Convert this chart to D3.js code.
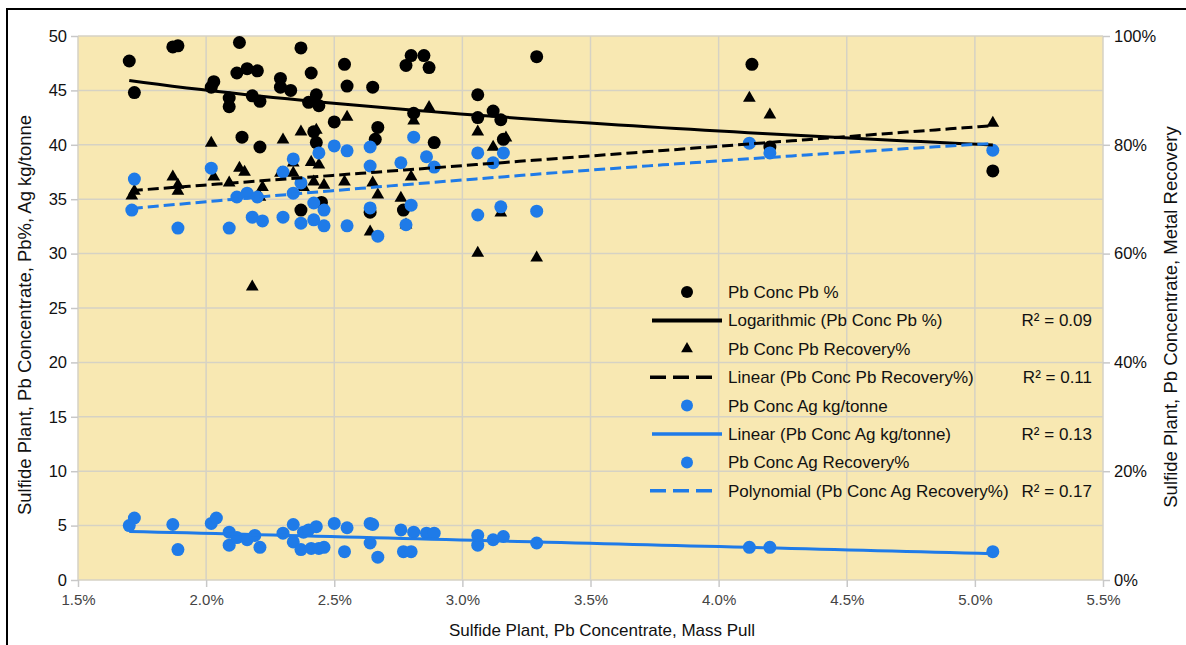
<!DOCTYPE html>
<html>
<head>
<meta charset="utf-8">
<script src="https://cdn.jsdelivr.net/npm/d3@7"></script>
<style>
  body { margin: 0; background: #fff; }
  text { font-family: "Liberation Sans", Arial, sans-serif; }
</style>
</head>
<body>
<svg id="chart" width="1186" height="645"></svg>
<script>
// Pb Conc Pb % (mass pull %, grade %)
var pbGrade = [
  [1.70,47.7],[1.72,44.8],[1.87,49.0],[1.89,49.1],[2.02,45.3],[2.03,45.8],[2.09,43.5],[2.09,44.3],
  [2.12,46.6],[2.13,49.4],[2.16,47.0],[2.20,46.8],[2.18,44.5],[2.21,44.0],[2.14,40.7],[2.21,39.8],
  [2.29,46.1],[2.29,45.3],[2.33,45.0],[2.37,48.9],[2.41,46.6],[2.40,43.9],[2.43,44.6],[2.44,43.6],
  [2.42,41.2],[2.43,40.2],[2.37,34.0],[2.45,34.7],[2.50,42.1],[2.54,47.4],[2.55,45.4],[2.65,45.3],
  [2.66,40.5],[2.64,33.8],[2.67,41.6],[2.77,34.0],[2.78,47.3],[2.80,48.2],[2.85,48.2],[2.87,47.1],
  [2.81,42.9],[2.89,40.2],[3.06,44.6],[3.06,42.5],[3.12,43.1],[3.15,42.3],[3.16,40.5],[3.29,48.1],
  [4.13,47.4],[4.20,39.8],[5.07,37.6]
];
// Pb Conc Pb Recovery%
var pbRecovery = [
  [1.71,70.6],[1.72,71.5],[1.87,74.1],[1.89,72.6],[1.89,71.5],[2.02,80.3],[2.03,74.1],[2.09,73.0],
  [2.13,75.7],[2.15,75.0],[2.22,72.2],[2.21,70.4],[2.18,53.9],[2.30,80.9],[2.34,76.7],[2.34,74.8],
  [2.29,74.8],[2.37,82.4],[2.43,82.7],[2.41,76.8],[2.44,76.3],[2.42,73.2],[2.46,72.6],[2.38,72.2],
  [2.55,85.1],[2.54,73.2],[2.65,73.0],[2.67,70.8],[2.64,64.0],[2.76,70.2],[2.78,65.3],[2.80,74.1],
  [2.81,84.4],[2.87,86.9],[3.06,82.4],[3.12,79.6],[3.17,81.3],[3.15,67.5],[3.06,60.1],[3.29,59.2],
  [4.12,88.6],[4.20,85.5],[5.07,84.0]
];
// Pb Conc Ag kg/tonne
var agGrade = [
  [1.72,5.7],[1.70,5.0],[1.87,5.1],[1.89,2.8],[2.02,5.2],[2.04,5.7],[2.09,4.4],[2.09,3.2],
  [2.12,3.9],[2.16,3.7],[2.19,4.1],[2.21,3.0],[2.30,4.3],[2.34,5.1],[2.34,3.5],[2.37,2.8],
  [2.38,4.4],[2.40,4.6],[2.43,4.9],[2.41,2.9],[2.44,2.9],[2.46,3.0],[2.50,5.2],[2.54,2.6],
  [2.55,4.8],[2.64,5.2],[2.65,5.1],[2.64,3.4],[2.67,2.1],[2.76,4.6],[2.77,2.6],[2.80,2.6],
  [2.81,4.4],[2.86,4.3],[2.89,4.3],[3.06,4.1],[3.06,3.2],[3.12,3.7],[3.16,4.0],[3.29,3.4],
  [4.12,3.0],[4.20,3.0],[5.07,2.6]
];
// Pb Conc Ag Recovery%
var agRecovery = [
  [1.71,68.0],[1.72,73.7],[1.89,64.7],[2.02,75.7],[2.09,64.7],[2.12,70.4],[2.16,71.1],[2.20,70.4],
  [2.18,66.7],[2.22,66.0],[2.30,66.7],[2.34,77.4],[2.34,71.1],[2.30,75.0],[2.37,73.0],[2.37,65.6],
  [2.42,69.3],[2.46,68.0],[2.42,66.2],[2.46,65.1],[2.44,78.5],[2.50,79.8],[2.55,78.9],[2.55,65.1],
  [2.64,79.6],[2.64,76.1],[2.64,68.4],[2.67,63.2],[2.76,76.7],[2.78,65.3],[2.80,68.9],[2.81,81.4],
  [2.86,77.8],[2.89,75.9],[3.06,78.5],[3.06,67.1],[3.12,76.7],[3.16,78.5],[3.15,68.6],[3.29,67.8],
  [4.12,80.3],[4.20,78.5],[5.07,79.0]
];

var xTicks = [1.5, 2.0, 2.5, 3.0, 3.5, 4.0, 4.5, 5.0, 5.5];
var yLeftTicks = [0, 5, 10, 15, 20, 25, 30, 35, 40, 45, 50];
var yRightTicks = [0, 20, 40, 60, 80, 100];
var legendNames = ["Pb Conc Pb %", "Logarithmic (Pb Conc Pb %)", "Pb Conc Pb Recovery%",
  "Linear (Pb Conc Pb Recovery%)", "Pb Conc Ag kg/tonne", "Linear (Pb Conc Ag kg/tonne)",
  "Pb Conc Ag Recovery%", "Polynomial (Pb Conc Ag Recovery%)"];
var rSquared = ["", "R² = 0.09", "", "R² = 0.11", "", "R² = 0.13", "", "R² = 0.17"];

var BLUE = "#1f7be8";

// least squares helpers
function linFit(pts) {
  var n = pts.length, sx = 0, sy = 0, sxy = 0, sxx = 0;
  pts.forEach(function(p) { sx += p[0]; sy += p[1]; sxy += p[0]*p[1]; sxx += p[0]*p[0]; });
  var slope = (n*sxy - sx*sy) / (n*sxx - sx*sx);
  return { slope: slope, intercept: (sy - slope*sx) / n };
}
function logFit(pts) {
  var lr = linFit(pts.map(p => [Math.log(p[0]), p[1]]));
  return x => lr.intercept + lr.slope * Math.log(x);
}
function polyFit(pts) {
  // normal equations for y = a + b x + c x^2
  var s = [0,0,0,0,0], t = [0,0,0];
  pts.forEach(function(p) {
    for (var k = 0; k < 5; k++) s[k] += Math.pow(p[0], k);
    for (var j = 0; j < 3; j++) t[j] += p[1] * Math.pow(p[0], j);
  });
  var m = [[s[0],s[1],s[2],t[0]],[s[1],s[2],s[3],t[1]],[s[2],s[3],s[4],t[2]]];
  for (var i = 0; i < 3; i++) {
    for (var r = i+1; r < 3; r++) {
      var f = m[r][i] / m[i][i];
      for (var c = i; c < 4; c++) m[r][c] -= f * m[i][c];
    }
  }
  var co = [0,0,0];
  for (var i2 = 2; i2 >= 0; i2--) {
    var v = m[i2][3];
    for (var c2 = i2+1; c2 < 3; c2++) v -= m[i2][c2] * co[c2];
    co[i2] = v / m[i2][i2];
  }
  return x => co[0] + co[1]*x + co[2]*x*x;
}

var svg = d3.select("#chart"),
  margin = { top: 36, right: 83, bottom: 65, left: 78 },
  width = 1186 - margin.left - margin.right,
  height = 645 - margin.top - margin.bottom;

// outer frame
svg.append("rect")
  .attr("x", 7).attr("y", 9).attr("width", 1200).attr("height", 660)
  .attr("fill", "none").attr("stroke", "#000").attr("stroke-width", 2);

var g = svg.append("g").attr("transform", "translate(" + margin.left + "," + margin.top + ")");

var x = d3.scaleLinear().domain([1.5, 5.5]).range([0, width]);
var y = d3.scaleLinear().domain([0, 50]).range([height, 0]);
var y2 = d3.scaleLinear().domain([0, 100]).range([height, 0]);

g.append("rect").attr("width", width).attr("height", height).attr("fill", "#f8e8b2");

// grid
g.append("g").selectAll("line").data(yLeftTicks).join("line")
  .attr("x1", 0).attr("x2", width)
  .attr("y1", d => y(d)).attr("y2", d => y(d))
  .attr("stroke", "#d6d2c4").attr("stroke-width", 1.5);
g.append("g").selectAll("line").data(xTicks).join("line")
  .attr("y1", 0).attr("y2", height)
  .attr("x1", d => x(d)).attr("x2", d => x(d))
  .attr("stroke", "#d6d2c4").attr("stroke-width", 1.5);

// axes
var xAxis = g.append("g")
  .attr("transform", "translate(0," + height + ")")
  .call(d3.axisBottom(x).tickValues(xTicks).tickFormat(d => d.toFixed(1) + "%").tickSize(7).tickPadding(7));
var yAxis = g.append("g")
  .call(d3.axisLeft(y).tickValues(yLeftTicks).tickSize(7).tickPadding(4));
var y2Axis = g.append("g")
  .attr("transform", "translate(" + width + ",0)")
  .call(d3.axisRight(y2).tickValues(yRightTicks).tickFormat(d => d + "%").tickSize(7).tickPadding(4));

[xAxis, yAxis, y2Axis].forEach(function(a) {
  a.select(".domain").remove();
  a.selectAll(".tick line").attr("stroke", "#c8c8c8").attr("stroke-width", 1.5);
  a.selectAll(".tick text").attr("font-size", 16.5).attr("fill", "#111")
    .attr("font-family", "'Liberation Sans', Arial, sans-serif");
});
xAxis.selectAll(".tick text").attr("font-size", 15).attr("fill", "#444");

// axis titles
svg.append("text")
  .attr("transform", "translate(31,315) rotate(-90)")
  .attr("text-anchor", "middle").attr("font-size", 18.5).attr("fill", "#111")
  .text("Sulfide Plant, Pb Concentrate, Pb%, Ag kg/tonne");
svg.append("text")
  .attr("transform", "translate(1177,317) rotate(-90)")
  .attr("text-anchor", "middle").attr("font-size", 18.5).attr("fill", "#111")
  .text("Sulfide Plant, Pb Concentrate, Metal Recovery");
svg.append("text")
  .attr("x", 602).attr("y", 636)
  .attr("text-anchor", "middle").attr("font-size", 17).attr("fill", "#111")
  .text("Sulfide Plant, Pb Concentrate, Mass Pull");

// trend curves
function trendPath(fn, pts, yScale) {
  var ext = d3.extent(pts, p => p[0]);
  var xs = d3.range(0, 61).map(i => ext[0] + (ext[1] - ext[0]) * i / 60);
  return d3.line().x(v => x(v)).y(v => yScale(fn(v)))(xs);
}
var pbGradeFit = logFit(pbGrade);
var pbRecLin = linFit(pbRecovery);
var agGradeLin = linFit(agGrade);
var agRecFit = polyFit(agRecovery);

var triangle = d3.symbol().type(d3.symbolTriangle).size(70);

// Pb grade
g.append("g").selectAll("circle").data(pbGrade).join("circle")
  .attr("cx", d => x(d[0])).attr("cy", d => y(d[1])).attr("r", 6.5).attr("fill", "#000");
// Pb recovery
g.append("g").selectAll("path").data(pbRecovery).join("path")
  .attr("d", triangle)
  .attr("transform", d => "translate(" + x(d[0]) + "," + y2(d[1]) + ")")
  .attr("fill", "#000");
// Ag grade
g.append("g").selectAll("circle").data(agGrade).join("circle")
  .attr("cx", d => x(d[0])).attr("cy", d => y(d[1])).attr("r", 6.5).attr("fill", BLUE);
// Ag recovery
g.append("g").selectAll("circle").data(agRecovery).join("circle")
  .attr("cx", d => x(d[0])).attr("cy", d => y2(d[1])).attr("r", 6.5).attr("fill", BLUE);

g.append("path").attr("fill", "none").attr("stroke", "#000").attr("stroke-width", 3)
  .attr("d", trendPath(pbGradeFit, pbGrade, y));
g.append("path").attr("fill", "none").attr("stroke", "#000").attr("stroke-width", 3)
  .attr("stroke-dasharray", "11,5")
  .attr("d", trendPath(v => pbRecLin.intercept + pbRecLin.slope * v, pbRecovery, y2));
g.append("path").attr("fill", "none").attr("stroke", BLUE).attr("stroke-width", 3)
  .attr("d", trendPath(v => agGradeLin.intercept + agGradeLin.slope * v, agGrade, y));
g.append("path").attr("fill", "none").attr("stroke", BLUE).attr("stroke-width", 3)
  .attr("stroke-dasharray", "11,5")
  .attr("d", trendPath(agRecFit, agRecovery, y2));

// legend
var legend = svg.append("g");
var rowY = d3.range(legendNames.length).map(i => 292 + i * 28.4);
legendNames.forEach(function(name, i) {
  var ly = rowY[i];
  var isBlue = i >= 4;
  var col = isBlue ? BLUE : "#000";
  if (i % 2 === 0) {
    if (i === 2) {
      legend.append("path").attr("d", d3.symbol().type(d3.symbolTriangle).size(60))
        .attr("transform", "translate(687," + ly + ")").attr("fill", col);
    } else {
      legend.append("circle").attr("cx", 687).attr("cy", ly).attr("r", 6).attr("fill", col);
    }
  } else {
    var dashed = (i === 3 || i === 7);
    legend.append("line").attr("x1", dashed ? 650 : 652).attr("x2", dashed ? 716 : 722)
      .attr("y1", ly).attr("y2", ly)
      .attr("stroke", col).attr("stroke-width", i === 1 ? 4 : 3.5)
      .attr("stroke-dasharray", dashed ? "16,7" : null);
  }
  legend.append("text").attr("x", 728).attr("y", ly + 6)
    .attr("font-size", 17).attr("fill", "#111").text(name);
  if (rSquared[i]) {
    legend.append("text").attr("x", 1092).attr("y", ly + 6).attr("text-anchor", "end")
      .attr("font-size", 17).attr("fill", "#111").text(rSquared[i]);
  }
});
</script>
</body>
</html>
